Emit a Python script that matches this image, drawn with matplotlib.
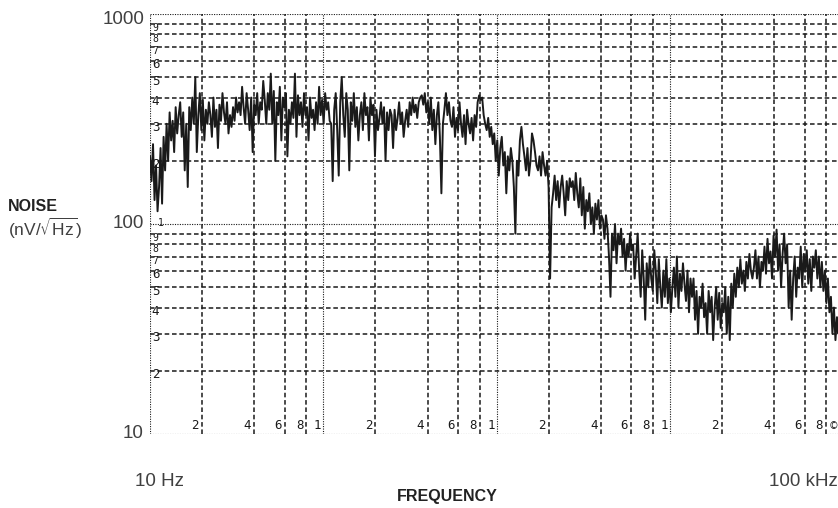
import numpy as np
import matplotlib
matplotlib.use('Agg')
import matplotlib.pyplot as plt

# noise spectrum, nV/sqrt(Hz), left to right
noise = [
    210, 160, 240, 130, 190, 115, 150, 230, 125, 260, 180, 300, 200, 340, 250, 310, 220, 360, 270, 330,
    380, 260, 340, 180, 300, 150, 360, 280, 400, 300, 500, 220, 330, 420, 280, 390, 250, 350, 300, 380,
    330, 260, 400, 290, 350, 230, 370, 310, 420, 340, 300, 380, 270, 330, 290, 360, 310, 400, 340, 380,
    330, 450, 360, 300, 420, 350, 280, 400, 220, 370, 330, 420, 300, 380, 350, 480, 390, 300, 420, 350,
    520, 300, 430, 200, 380, 330, 450, 250, 400, 360, 420, 210, 350, 300, 380, 320, 520, 260, 410, 330,
    380, 290, 420, 330, 360, 250, 400, 320, 350, 280, 380, 300, 450, 330, 390, 300, 420, 350, 380, 310,
    300, 160, 350, 420, 280, 170, 380, 500, 330, 260, 420, 350, 180, 380, 310, 420, 290, 360, 250, 330,
    380, 280, 420, 330, 360, 250, 400, 330, 370, 210, 350, 280, 320, 380, 300, 360, 200, 340, 280, 350,
    330, 230, 350, 280, 320, 380, 300, 340, 260, 310, 350, 290, 380, 330, 400, 340, 370, 320, 380, 400,
    410, 370, 420, 340, 380, 300, 400, 280, 350, 240, 330, 380, 260, 140, 300, 350, 420, 330, 380, 310,
    290, 360, 260, 320, 280, 380, 300, 260, 330, 240, 350, 300, 270, 320, 250, 330, 290, 380, 410, 390,
    400, 330, 300, 280, 320, 260, 290, 240, 270, 200, 250, 170, 230, 260, 190, 220, 140, 210, 180, 230,
    200, 150, 90, 200, 170, 250, 290, 240, 210, 180, 230, 170, 200, 270, 250, 220, 190, 180, 210, 170,
    220, 190, 170, 200, 150, 55, 120, 140, 170, 130, 160, 120, 150, 170, 140, 110, 160, 130, 165, 150,
    160, 130, 175, 140, 120, 165, 110, 150, 95, 130, 115, 140, 100, 120, 90, 125, 105, 130, 95, 110,
    105, 85, 110, 95, 70, 45, 90, 75, 100, 65, 90, 80, 95, 70, 85, 60, 80, 70, 90, 75,
    80, 55, 70, 90, 60, 45, 75, 55, 35, 65, 50, 70, 55, 48, 75, 60, 42, 68, 50, 40,
    60, 45, 68, 42, 55, 38, 50, 62, 45, 70, 40, 58, 48, 65, 52, 43, 60, 38, 55, 45,
    55, 35, 48, 30, 45, 40, 52, 36, 42, 30, 48, 38, 45, 28, 40, 50, 35, 47, 32, 42,
    38, 50, 30, 45, 28, 52, 40, 58, 45, 62, 50, 68, 52, 60, 48, 66, 55, 72, 60, 55,
    62, 75, 55, 70, 50, 66, 60, 78, 58, 85, 65, 74, 55, 88, 70, 94, 60, 80, 50, 72,
    90, 65, 80, 40, 60, 35, 55, 70, 45, 62, 55, 78, 50, 72, 60, 75, 52, 68, 48, 70,
    62, 75, 55, 70, 50, 66, 48, 60, 42, 55, 38, 45, 30, 40, 28, 36, 30, 38, 32, 35,
]
# analyser sweep points, 10 Hz .. 100 kHz
freq = np.geomspace(10, 1e5, len(noise))

y_major = [10, 100, 1000]
y_minor = [2, 3, 4, 5, 6, 7, 8, 9]
x_decades = [10, 100, 1000, 10000]
x_minor = [2, 4, 6, 8]

ink = '#1a1a1a'
label_grey = '#404040'

W, H = 838, 508
fig = plt.figure(figsize=(W / 100, H / 100), dpi=100)
# plot box runs slightly past the right edge, as in the scan
ax = fig.add_axes([150 / W, 1 - 434 / H, 693 / W, 420 / H])
ax.set_xscale('log')
ax.set_yscale('log')
ax.set_xlim(10, 1e5)
ax.set_ylim(10, 1000)

for s in ax.spines.values():
    s.set_visible(False)
ax.set_xticks([])
ax.set_yticks([])
ax.minorticks_off()

fine = dict(color=ink, lw=0.8, linestyle=(0, (1, 1.2)), zorder=1)
dash = dict(color=ink, lw=1.1, linestyle=(0, (3, 1.8)), zorder=1)

# frame and decade lines (fine dotted)
for v in y_major:
    ax.axhline(v, **fine)
for d in x_decades:
    ax.axvline(d, **fine)

# minor grid (dashed)
for dec in y_major[:-1]:
    for m in y_minor:
        ax.axhline(m * dec, **dash)
for dec in x_decades:
    for m in x_minor:
        ax.axvline(m * dec, **dash)

# small plotter digits inside the box
small = dict(fontsize=9, color=ink, family='DejaVu Sans Mono')
tight = dict(fontsize=7, color=ink, family='DejaVu Sans Mono')
for dec in y_major[:-1]:
    for m in y_minor:
        # 7, 8, 9 sit close together, keep them small
        style = tight if m >= 7 else small
        ax.annotate(str(m), (10, m * dec), xytext=(4, -3),
                    textcoords='offset points', ha='center', va='center', **style)
ax.annotate('1', (10, 100), xytext=(8, 1), textcoords='offset points',
            ha='center', va='center', **tight)
for dec in x_decades:
    for m in x_minor:
        ax.annotate(str(m), (m * dec, 10), xytext=(-5, 6),
                    textcoords='offset points', ha='center', va='center', **small)
    if dec > 10:
        ax.annotate('1', (dec, 10), xytext=(-4, 6), textcoords='offset points',
                    ha='center', va='center', **small)
fig.text(833 / W, 1 - 426 / H, '©', fontsize=7, color=ink, ha='center', va='center')

# the trace
ax.plot(freq, noise, color=ink, lw=1.4, zorder=3)

# outer labels
lab = dict(fontsize=13.5, color=label_grey, family='Liberation Sans')
fig.text(144 / W, 1 - 19 / H, '1000', ha='right', va='center', **lab)
fig.text(144 / W, 1 - 224 / H, '100', ha='right', va='center', **lab)
fig.text(144 / W, 1 - 434 / H, '10', ha='right', va='center', **lab)
fig.text(135 / W, 1 - 481 / H, '10 Hz', ha='left', va='center', **lab)
fig.text(838 / W, 1 - 481 / H, '100 kHz', ha='right', va='center', **lab)

bold = dict(fontsize=11.5, color='#222222', fontweight='bold',
            family=['Liberation Sans Narrow', 'Liberation Sans'])
fig.text(8 / W, 1 - 207 / H, 'NOISE', ha='left', va='center', **bold)
fig.text(8 / W, 1 - 228 / H, r'(nV/$\sqrt{\mathregular{Hz}}$)', ha='left',
         va='center', fontsize=12.5, color=label_grey, family='Liberation Sans')
fig.text(447 / W, 1 - 497 / H, 'FREQUENCY', ha='center', va='center', **bold)

fig.savefig('out.png', dpi=100)
